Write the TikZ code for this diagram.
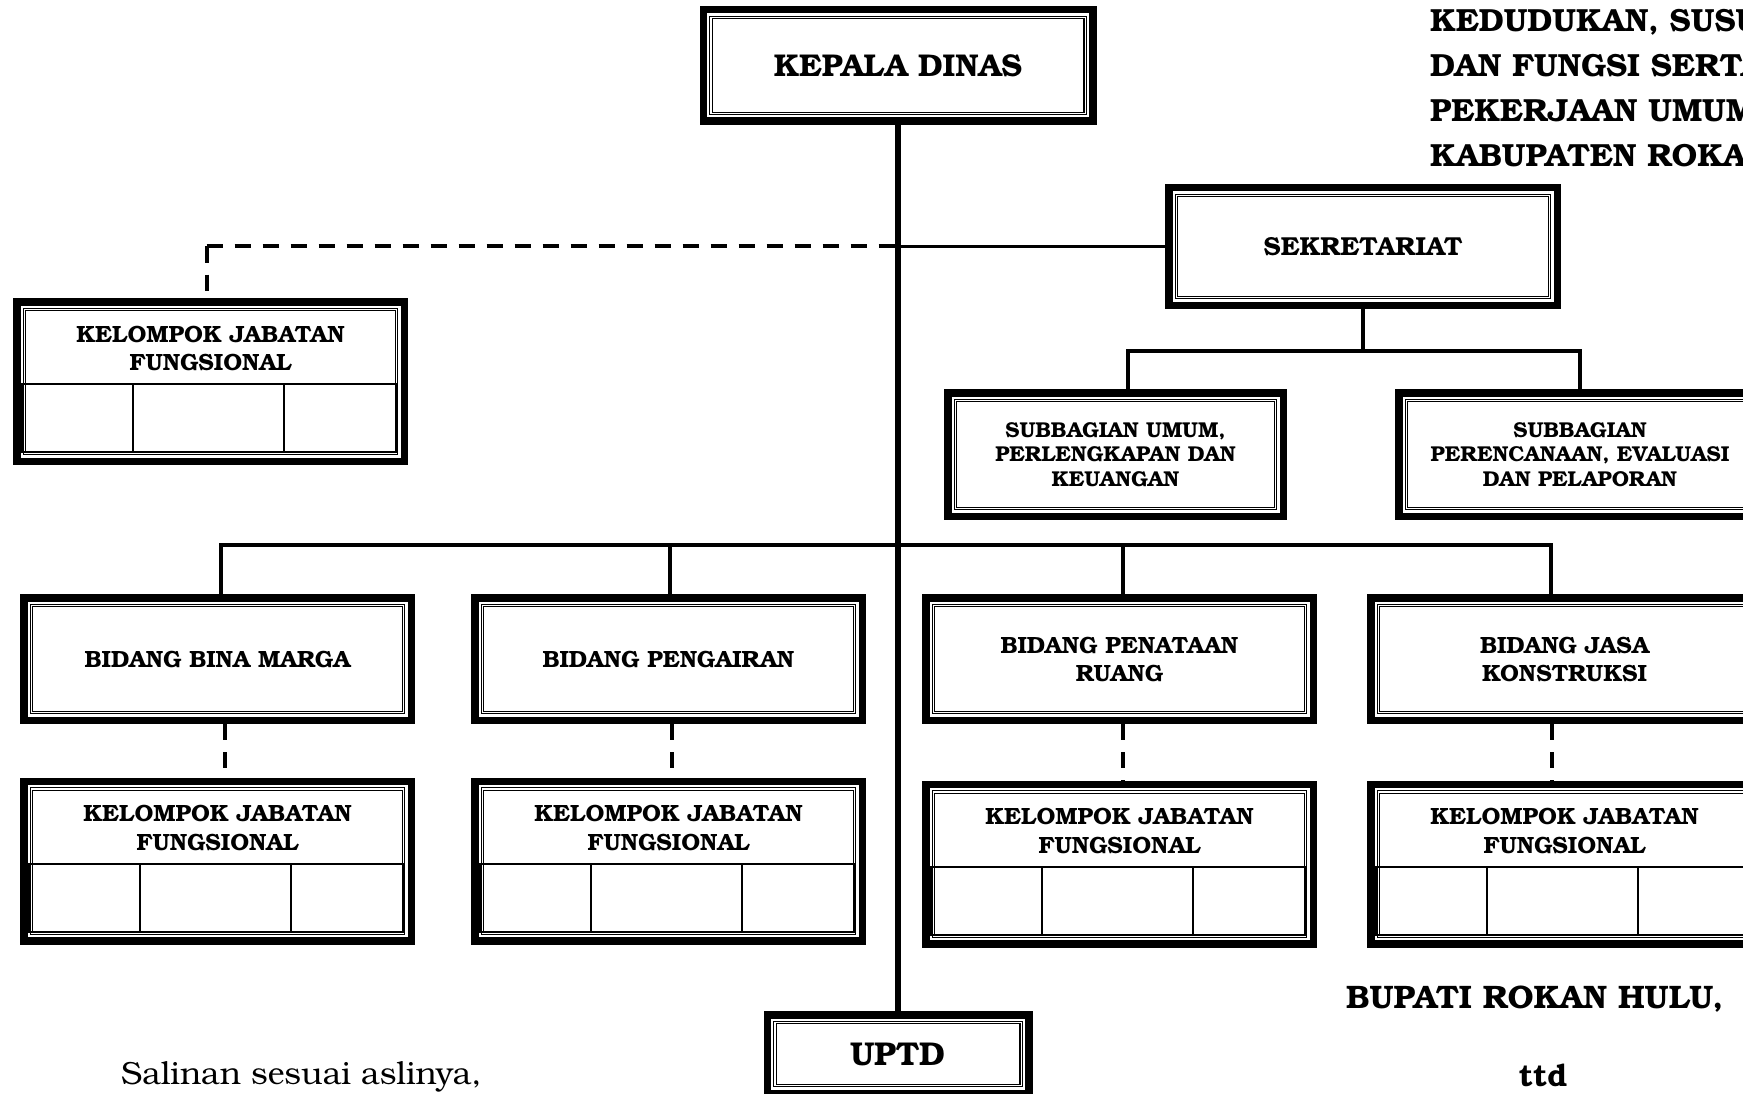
\documentclass[tikz,border=0pt]{standalone}
\usepackage{fontspec}
\setmainfont{texgyrebonum}[Extension=.otf, UprightFont=*-regular, BoldFont=*-bold]
\usetikzlibrary{positioning}
\newcommand{\innerlines}{
  \draw[line width=1.1pt] ([shift={(6.5pt,6.5pt)}]path picture bounding box.south west)
    rectangle ([shift={(-6.5pt,-6.5pt)}]path picture bounding box.north east);
  \draw[line width=1.1pt] ([shift={(8.8pt,8.8pt)}]path picture bounding box.south west)
    rectangle ([shift={(-8.8pt,-8.8pt)}]path picture bounding box.north east);
}
\newcommand{\tablegrid}{
  \coordinate (gsw) at ([shift={(4.75pt,9.25pt)}]path picture bounding box.south west);
  \coordinate (gne) at ([shift={(-7.25pt,-82.25pt)}]path picture bounding box.north east);
  \draw[line width=2pt] (gsw) rectangle (gne);
  \draw[line width=2pt] ([xshift=111.5pt]gsw) -- ([xshift=111.5pt]gsw |- gne);
  \draw[line width=2pt] ([xshift=262.5pt]gsw) -- ([xshift=262.5pt]gsw |- gne);
}
\tikzset{
  orgbox/.style={
    draw, line width=7.5pt, inner sep=0pt, align=center,
    path picture={\innerlines}
  },
  headbox/.style={orgbox, minimum width=389.5pt, minimum height=111.5pt,
    font=\fontsize{31.5}{36}\selectfont\bfseries},
  secbox/.style={orgbox, minimum width=388.5pt, minimum height=117.5pt,
    font=\fontsize{26}{32}\selectfont\bfseries},
  subbox/.style={orgbox, minimum height=123.5pt,
    font=\fontsize{21.5}{24.5}\selectfont\bfseries},
  bidbox/.style={orgbox, minimum width=387.5pt, minimum height=122.5pt,
    font=\fontsize{23.5}{28}\selectfont\bfseries},
  kjfbox/.style={orgbox, minimum width=387.5pt, minimum height=159.5pt,
    path picture={\innerlines\tablegrid}},
  kjftext/.style={align=center, inner sep=0pt,
    font=\fontsize{23.5}{28.5}\selectfont\bfseries},
  uptdbox/.style={orgbox, minimum width=261.5pt, minimum height=78.5pt,
    font=\fontsize{33}{38}\selectfont\bfseries},
  link/.style={line width=3.5pt},
  spine/.style={line width=5.5pt},
  dashlink/.style={line width=4pt, dash pattern=on 16pt off 12pt}
}
\begin{document}
\begin{tikzpicture}[x=1pt, y=1pt]
  \useasboundingbox (0,0) rectangle (1743,-1094);
  \node [headbox] (kadis) at (898,-65.5) {KEPALA DINAS};
  \node [secbox, on grid, below right=181pt and 465pt of kadis] (sekret) {SEKRETARIAT};
  \node [kjfbox, on grid, below left=316pt and 687.5pt of kadis] (kjf0) {};
  \node [kjftext, on grid, above=33pt of kjf0] (kjf0t) {KELOMPOK JABATAN\\FUNGSIONAL};
  \node [subbox, minimum width=335.5pt, on grid, below left=208pt and 247.5pt of sekret] (subum)
    {SUBBAGIAN UMUM,\\PERLENGKAPAN DAN\\KEUANGAN};
  \node [subbox, minimum width=362.5pt, on grid, right=464.5pt of subum] (subren)
    {SUBBAGIAN\\PERENCANAAN, EVALUASI\\DAN PELAPORAN};
  \node [bidbox, on grid, below left=593.5pt and 680.5pt of kadis] (bm) {BIDANG BINA MARGA};
  \node [bidbox, on grid, right=451pt of bm] (pa) {BIDANG PENGAIRAN};
  \node [bidbox, on grid, right=451pt of pa] (pr) {BIDANG PENATAAN\\RUANG};
  \node [bidbox, on grid, right=445pt of pr] (jk) {BIDANG JASA\\KONSTRUKSI};
  \node [kjfbox, on grid, below=202pt of bm] (kjf1) {};
  \node [kjfbox, on grid, below=202pt of pa] (kjf2) {};
  \node [kjfbox, on grid, below=205pt of pr] (kjf3) {};
  \node [kjfbox, on grid, below=205pt of jk] (kjf4) {};
  \node [kjftext, on grid, above=33pt of kjf1] (kjf1t) {KELOMPOK JABATAN\\FUNGSIONAL};
  \node [kjftext, on grid, above=33pt of kjf2] (kjf2t) {KELOMPOK JABATAN\\FUNGSIONAL};
  \node [kjftext, on grid, above=33pt of kjf3] (kjf3t) {KELOMPOK JABATAN\\FUNGSIONAL};
  \node [kjftext, on grid, above=33pt of kjf4] (kjf4t) {KELOMPOK JABATAN\\FUNGSIONAL};
  \node [uptdbox, on grid, below=988.5pt of kadis] (uptd) {UPTD};
  \node [anchor=north west, align=left, inner sep=0pt,
    font=\fontsize{32}{45}\selectfont\bfseries] (judul) at (1430,-9.5)
    {KEDUDUKAN, SUSUNAN\\DAN FUNGSI SERTA\\PEKERJAAN UMUM\\KABUPATEN ROKAN};
  \node [anchor=west, inner sep=0pt, font=\fontsize{32.5}{36}\selectfont\bfseries] (bupati)
    at (1346,-999) {BUPATI ROKAN HULU,};
  \node [inner sep=0pt, font=\fontsize{31}{36}\selectfont\bfseries] (ttd) at (1543,-1075) {ttd};
  \node [anchor=base west, inner sep=0pt, font=\fontsize{32}{36}\selectfont] (salinan)
    at (121,-1084) {Salinan sesuai aslinya,};
  \draw [spine] (kadis.south) -- (uptd.north);
  \draw [link] (kadis.south |- sekret.west) -- (sekret.west);
  \coordinate (sudut) at ([xshift=-4pt]kjf0.north |- sekret.west);
  \draw [dashlink] (sudut) -- (sudut |- kjf0.north);
  \draw [dashlink] (sudut) -- (kadis.south |- sekret.west);
  \draw [link] (sekret.south) -- ++(0,-42) coordinate (subbus);
  \draw [link] ([xshift=12.5pt]subum.north) |- (subbus) -| (subren.north);
  \draw [link] ([xshift=3.5pt]bm.north) -- ++(0,49) -| ([xshift=-13.5pt]jk.north);
  \draw [link] ([xshift=1.5pt]pa.north) -- ++(0,49);
  \draw [link] ([xshift=3.5pt]pr.north) -- ++(0,49);
  \draw [dashlink] ([xshift=7.5pt]bm.south) -- ([xshift=7.5pt]bm.south |- kjf1.north);
  \draw [dashlink] ([xshift=3.5pt]pa.south) -- ([xshift=3.5pt]pa.south |- kjf2.north);
  \draw [dashlink] ([xshift=3.5pt]pr.south) -- ([xshift=3.5pt]pr.south |- kjf3.north);
  \draw [dashlink] ([xshift=-12.5pt]jk.south) -- ([xshift=-12.5pt]jk.south |- kjf4.north);
\end{tikzpicture}
\end{document}
